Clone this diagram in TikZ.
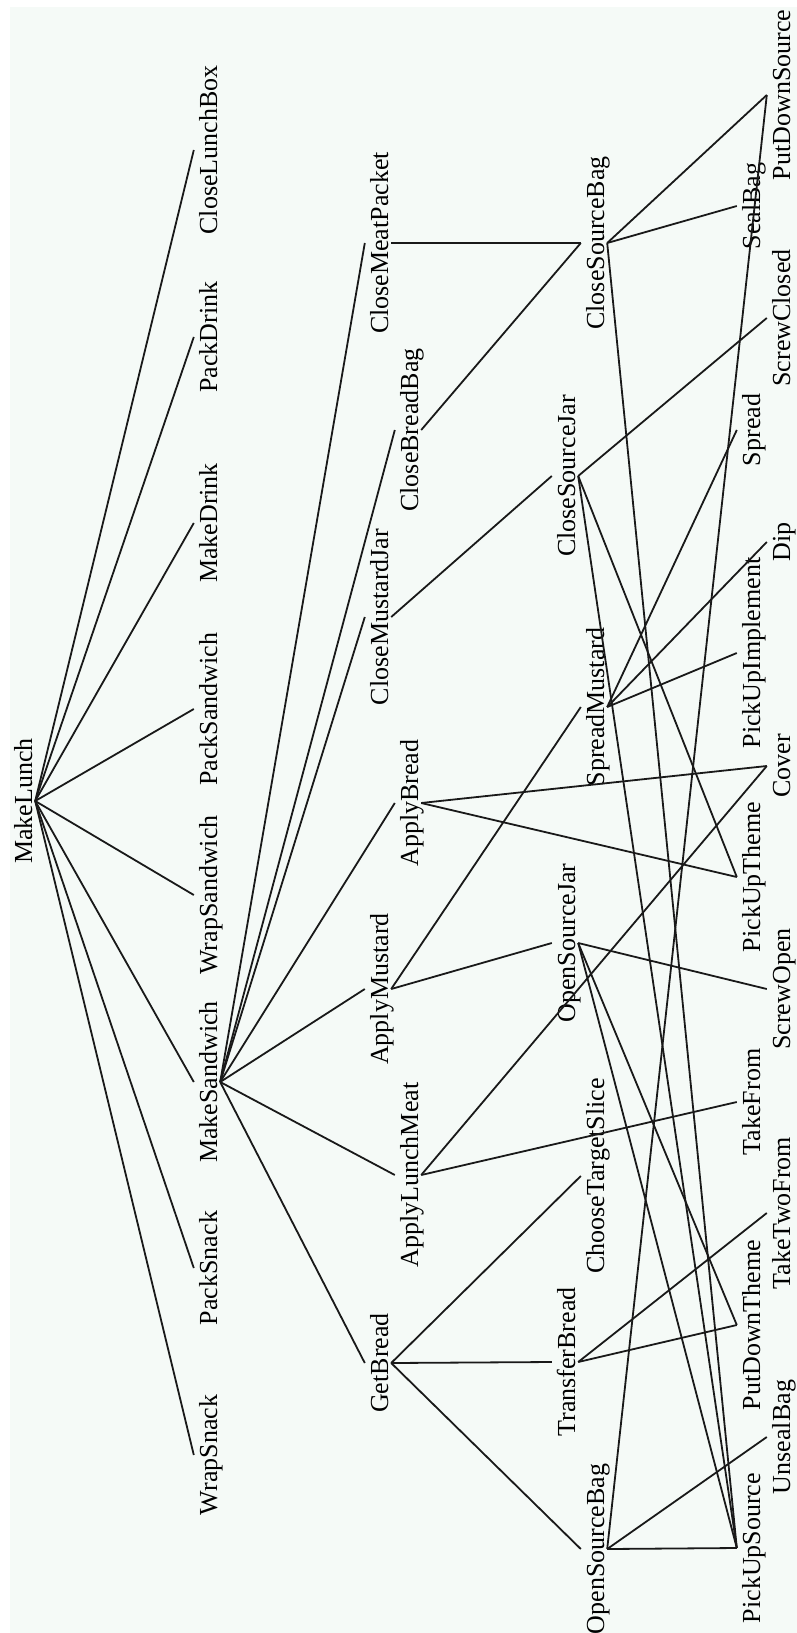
\documentclass[tikz,border=0pt]{standalone}
\usepackage{fontspec}
\setmainfont{Liberation Serif}
\definecolor{bgc}{RGB}{245,250,247}
\definecolor{lnc}{RGB}{25,25,25}
\begin{document}
\begin{tikzpicture}[x=1pt,y=-1pt,
  lbl/.style={rotate=90, anchor=base, inner sep=0pt, text height=23pt, text depth=3pt,
    font=\fontsize{26}{30}\selectfont},
  edge/.style={draw=lnc, line width=1.8pt}]
\useasboundingbox (0,0) rectangle (797,1633);
\fill[bgc] (10,7) rectangle (797,1633);
% column 1
\node[lbl] (MakeLunch) at (32,801) {MakeLunch};
% column 2
\node[lbl] (CloseLunchBox) at (217,150) {CloseLunchBox};
\node[lbl] (PackDrink) at (217,337) {PackDrink};
\node[lbl] (MakeDrink) at (217,523) {MakeDrink};
\node[lbl] (PackSandwich) at (217,709) {PackSandwich};
\node[lbl] (WrapSandwich) at (217,895) {WrapSandwich};
\node[lbl] (MakeSandwich) at (217,1082) {MakeSandwich};
\node[lbl] (PackSnack) at (217,1268) {PackSnack};
\node[lbl] (WrapSnack) at (217,1455) {WrapSnack};
% column 3
\node[lbl] (CloseMeatPacket) at (388,243) {CloseMeatPacket};
\node[lbl] (CloseBreadBag) at (418,430) {CloseBreadBag};
\node[lbl] (CloseMustardJar) at (388,617) {CloseMustardJar};
\node[lbl] (ApplyBread) at (418,803) {ApplyBread};
\node[lbl] (ApplyMustard) at (388,989) {ApplyMustard};
\node[lbl] (ApplyLunchMeat) at (418,1175) {ApplyLunchMeat};
\node[lbl] (GetBread) at (388,1363) {GetBread};
% column 4
\node[lbl] (CloseSourceBag) at (604,243) {CloseSourceBag};
\node[lbl] (CloseSourceJar) at (575,476) {CloseSourceJar};
\node[lbl] (SpreadMustard) at (604,707) {SpreadMustard};
\node[lbl] (OpenSourceJar) at (575,943) {OpenSourceJar};
\node[lbl] (ChooseTargetSlice) at (604,1176) {ChooseTargetSlice};
\node[lbl] (TransferBread) at (575,1362) {TransferBread};
\node[lbl] (OpenSourceBag) at (604,1549) {OpenSourceBag};
% column 5
\node[lbl] (PutDownSource) at (790,95) {PutDownSource};
\node[lbl] (SealBag) at (760,206) {SealBag};
\node[lbl] (ScrewClosed) at (790,318) {ScrewClosed};
\node[lbl] (Spread) at (760,430) {Spread};
\node[lbl] (Dip) at (790,542) {Dip};
\node[lbl] (PickUpImplement) at (760,653) {PickUpImplement};
\node[lbl] (Cover) at (790,766) {Cover};
\node[lbl] (PickUpTheme) at (760,877) {PickUpTheme};
\node[lbl] (ScrewOpen) at (790,989) {ScrewOpen};
\node[lbl] (TakeFrom) at (760,1102) {TakeFrom};
\node[lbl] (TakeTwoFrom) at (790,1213) {TakeTwoFrom};
\node[lbl] (PutDownTheme) at (760,1325) {PutDownTheme};
\node[lbl] (UnsealBag) at (790,1437) {UnsealBag};
\node[lbl] (PickUpSource) at (760,1548) {PickUpSource};
% edges
\foreach \c in {CloseLunchBox,PackDrink,MakeDrink,PackSandwich,WrapSandwich,MakeSandwich,PackSnack,WrapSnack}
  \draw[edge] (MakeLunch.south) -- (\c.north);
\foreach \c in {CloseMeatPacket,CloseBreadBag,CloseMustardJar,ApplyBread,ApplyMustard,ApplyLunchMeat,GetBread}
  \draw[edge] (MakeSandwich.south) -- (\c.north);
\draw[edge] (CloseMeatPacket.south) -- (CloseSourceBag.north);
\draw[edge] (CloseBreadBag.south) -- (CloseSourceBag.north);
\draw[edge] (CloseMustardJar.south) -- (CloseSourceJar.north);
\draw[edge] (ApplyBread.south) -- (Cover.north);
\draw[edge] (ApplyBread.south) -- (PickUpTheme.north);
\draw[edge] (ApplyMustard.south) -- (SpreadMustard.north);
\draw[edge] (ApplyMustard.south) -- (OpenSourceJar.north);
\draw[edge] (ApplyLunchMeat.south) -- (TakeFrom.north);
\draw[edge] (ApplyLunchMeat.south) -- (Cover.north);
\foreach \c in {ChooseTargetSlice,TransferBread,OpenSourceBag}
  \draw[edge] (GetBread.south) -- (\c.north);
\foreach \c in {PutDownSource,SealBag,PickUpSource}
  \draw[edge] (CloseSourceBag.south) -- (\c.north);
\foreach \c in {ScrewClosed,PickUpTheme,PickUpSource}
  \draw[edge] (CloseSourceJar.south) -- (\c.north);
\foreach \c in {Spread,Dip,PickUpImplement}
  \draw[edge] (SpreadMustard.south) -- (\c.north);
\foreach \c in {ScrewOpen,PutDownTheme,PickUpSource}
  \draw[edge] (OpenSourceJar.south) -- (\c.north);
\foreach \c in {TakeTwoFrom,PutDownTheme}
  \draw[edge] (TransferBread.south) -- (\c.north);
\foreach \c in {PickUpSource,UnsealBag,PutDownSource}
  \draw[edge] (OpenSourceBag.south) -- (\c.north);
\end{tikzpicture}
\end{document}
